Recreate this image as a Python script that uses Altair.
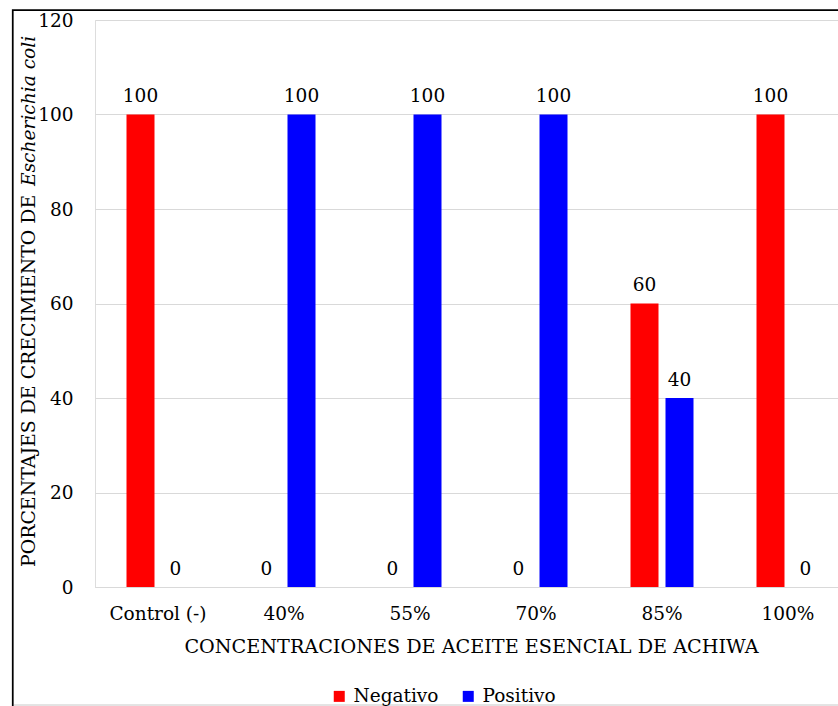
import altair as alt
import pandas as pd

# Growth outcome per essential-oil concentration (percent of samples)
categories = ["Control (-)", "40%", "55%", "70%", "85%", "100%"]
negativo = [100, 0, 0, 0, 60, 100]
positivo = [0, 100, 100, 100, 40, 0]
series = ["Negativo", "Positivo"]
colors = ["#FF0000", "#0000FF"]
y_ticks = [0, 20, 40, 60, 80, 100, 120]

x_title = "CONCENTRACIONES DE ACEITE ESENCIAL DE ACHIWA"
y_title_plain = "PORCENTAJES DE CRECIMIENTO DE"
y_title_italic = "Escherichia coli"

rows = []
for cat, neg, pos in zip(categories, negativo, positivo):
    rows.append({"concentracion": cat, "resultado": "Negativo", "porcentaje": neg})
    rows.append({"concentracion": cat, "resultado": "Positivo", "porcentaje": pos})
df = pd.DataFrame(rows)

FONT = "DejaVu Serif"
GRID = "#d9d9d9"
LEFT, TOP = 95, 20
W, H = 743, 567
STEP = 126  # width of one category band
FS = 18.5  # tick and value label size

x_enc = alt.X(
    "concentracion:N",
    sort=categories,
    scale=alt.Scale(range=[0, STEP * len(categories)], paddingInner=0.5, paddingOuter=0.25),
    axis=alt.Axis(
        title=x_title,
        labelAngle=0,
        ticks=False,
        domainColor=GRID,
        domainWidth=1,
        labelFont=FONT,
        labelFontSize=FS,
        labelColor="black",
        labelPadding=17,
        titleFont=FONT,
        titleFontSize=19.2,
        titleFontWeight="normal",
        titleColor="black",
        titleBaseline="alphabetic",
        titleAlign="center",
        titleX=376,
        titleY=65.5,
    ),
)
xoff_enc = alt.XOffset(
    "resultado:N", sort=series, scale=alt.Scale(paddingInner=0.2, paddingOuter=0)
)
y_enc = alt.Y(
    "porcentaje:Q",
    scale=alt.Scale(domain=[0, 120], nice=False),
    axis=alt.Axis(
        values=y_ticks,
        title=None,
        grid=True,
        gridColor=GRID,
        gridWidth=1,
        domain=False,
        ticks=False,
        labelFont=FONT,
        labelFontSize=FS,
        labelColor="black",
        labelPadding=22,
    ),
)

base = alt.Chart(df)

bars = base.mark_bar().encode(
    x=x_enc,
    xOffset=xoff_enc,
    y=y_enc,
    color=alt.Color(
        "resultado:N",
        sort=series,
        scale=alt.Scale(domain=series, range=colors),
        legend=alt.Legend(
            title=None,
            orient="none",
            legendX=235,
            legendY=667,
            direction="horizontal",
            symbolType="square",
            symbolSize=121,
            symbolStrokeWidth=0,
            labelFont=FONT,
            labelFontSize=18.5,
            labelColor="black",
            labelOffset=5,
            columnPadding=20,
            padding=0,
        ),
    ),
)

labels = base.mark_text(
    dy=-12.5, baseline="alphabetic", font=FONT, fontSize=FS, color="black"
).encode(
    x=alt.X("concentracion:N", sort=categories),
    xOffset=alt.XOffset("resultado:N", sort=series),
    y="porcentaje:Q",
    text="porcentaje:Q",
)

# Vertical axis title: plain part plus italic species name
title_plain = alt.Chart(pd.DataFrame({"t": [y_title_plain]})).mark_text(
    angle=270, align="left", baseline="alphabetic", font=FONT, fontSize=18.9, color="black"
).encode(x=alt.value(35 - LEFT), y=alt.value(567 - TOP), text="t:N")

title_italic = alt.Chart(pd.DataFrame({"t": [y_title_italic]})).mark_text(
    angle=270, align="left", baseline="alphabetic", font=FONT, fontSize=18.6,
    fontStyle="italic", color="black"
).encode(x=alt.value(35 - LEFT), y=alt.value(186 - TOP), text="t:N")

# Outer frame of the chart area and the thin line beneath the legend
frame = alt.Chart(pd.DataFrame({"f": [0]})).mark_rect(
    filled=False, stroke="black", strokeWidth=1.75, clip=False
).encode(
    x=alt.value(12.75 - LEFT), x2=alt.value(900), y=alt.value(10 - TOP), y2=alt.value(900)
)
bottom_line = alt.Chart(pd.DataFrame({"f": [0]})).mark_rule(
    color="#c8c8c8", strokeWidth=1
).encode(x=alt.value(14 - LEFT), x2=alt.value(900), y=alt.value(705 - TOP))

chart = (
    alt.layer(bars, labels, title_plain, title_italic, bottom_line, frame)
    .properties(
        width=W,
        height=H,
        autosize=alt.AutoSizeParams(type="none"),
        padding={"left": LEFT, "top": TOP, "right": 838 - LEFT - W, "bottom": 706 - TOP - H},
    )
    .configure_view(stroke=None)
    .configure(background="white")
)

chart.save("out.html", embed_options={"renderer": "svg", "actions": False})
